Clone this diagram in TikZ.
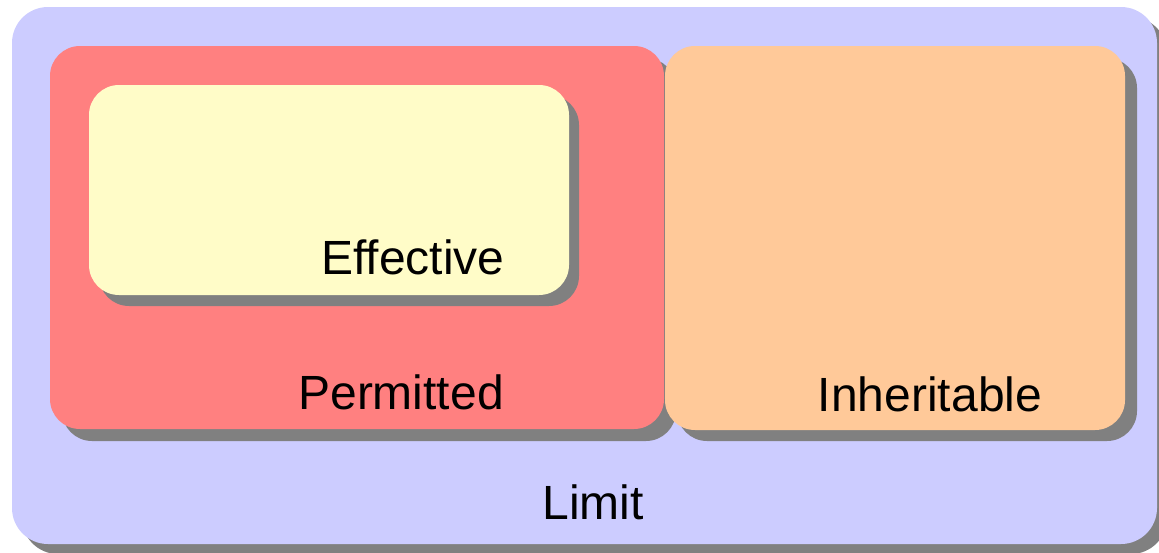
\documentclass[tikz,border=0pt]{standalone}
\usepackage{fontspec}
\setmainfont{Liberation Sans}
\begin{document}
\begin{tikzpicture}[x=1pt,y=-1pt,
  box/.style={rounded corners=30pt},
  shadowbox/.style={fill=shadowgray,rounded corners=30pt},
  lbl/.style={font=\fontsize{48}{56}\selectfont,anchor=base,inner sep=0pt}]
\definecolor{shadowgray}{HTML}{808080}
\definecolor{limitc}{HTML}{CCCCFF}
\definecolor{permc}{HTML}{FF8080}
\definecolor{effc}{HTML}{FFFCC8}
\definecolor{inhc}{HTML}{FFC999}
\useasboundingbox (0,0) rectangle (1159,552);
% Limit
\fill[shadowgray,rounded corners=36pt] (22,17) rectangle (1167,554);
\fill[limitc,rounded corners=36pt] (12,7) rectangle (1157,544);
% Permitted
\fill[shadowbox] (62,58) rectangle (676,441);
\fill[permc,box] (50,46) rectangle (664,429);
% Inheritable
\fill[shadowbox] (677,58) rectangle (1137,441);
\fill[inhc,box] (665,46) rectangle (1125,430);
% Effective
\fill[shadowbox] (99,95) rectangle (579,306);
\fill[effc,box] (89,85) rectangle (569,295);
\node[lbl] (eff) at (413,274) {Effective};
\node[lbl] (perm) at (401,409) {Permitted};
\node[lbl] (inh) at (930,411) {Inheritable};
\node[lbl] (lim) at (593,519) {Limit};
\end{tikzpicture}
\end{document}
